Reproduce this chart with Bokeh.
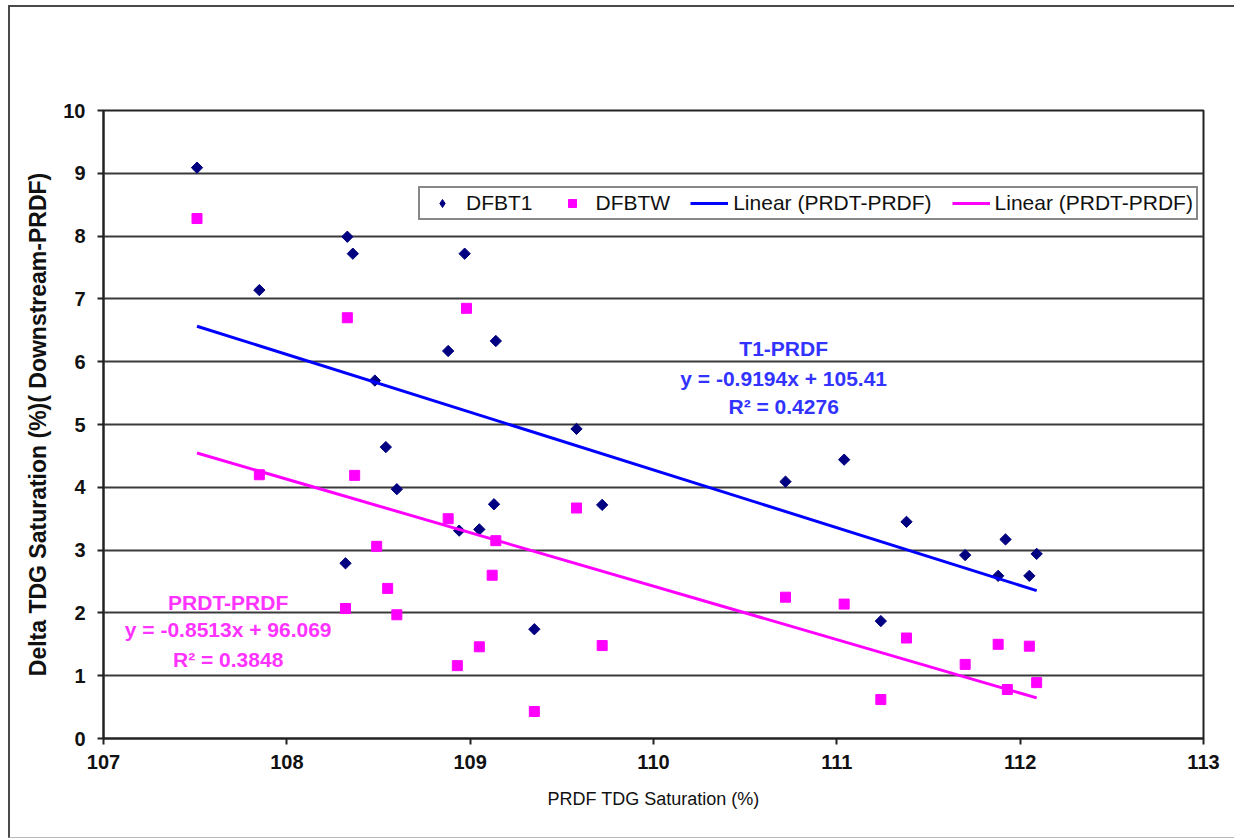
import math
from bokeh.plotting import figure
from bokeh.models import Label, Legend, LegendItem, FixedTicker, Range1d
from bokeh.embed import file_html
from bokeh.resources import INLINE

# ---- data ----
dfbt1_x = [107.51, 107.85, 108.33, 108.36, 108.48, 108.54, 108.60, 108.32, 108.88, 108.97,
           109.14, 109.13, 108.94, 109.05, 109.35, 109.58, 109.72, 110.72, 111.04, 111.38,
           111.70, 111.92, 111.88, 112.05, 112.09, 111.24]
dfbt1_y = [9.09, 7.14, 7.99, 7.72, 5.70, 4.64, 3.97, 2.79, 6.17, 7.72,
           6.33, 3.73, 3.31, 3.33, 1.74, 4.93, 3.72, 4.09, 4.44, 3.45,
           2.92, 3.17, 2.59, 2.59, 2.94, 1.87]

dfbtw_x = [107.51, 107.85, 108.33, 108.37, 108.49, 108.55, 108.60, 108.32, 108.88, 108.93,
           108.98, 109.05, 109.14, 109.12, 109.35, 109.58, 109.72, 110.72, 111.04, 111.24,
           111.38, 111.70, 111.88, 111.93, 112.05, 112.09]
dfbtw_y = [8.28, 4.20, 6.70, 4.19, 3.06, 2.39, 1.97, 2.07, 3.50, 1.16,
           6.85, 1.46, 3.15, 2.60, 0.43, 3.67, 1.48, 2.25, 2.14, 0.62,
           1.60, 1.18, 1.50, 0.78, 1.47, 0.89]

# trendline coefficients (from the chart's equations)
t1_slope, t1_intercept, t1_r2 = -0.9194, 105.41, 0.4276
tw_slope, tw_intercept, tw_r2 = -0.8513, 96.069, 0.3848

x_ticks = [107, 108, 109, 110, 111, 112, 113]
y_ticks = [0, 1, 2, 3, 4, 5, 6, 7, 8, 9, 10]

series_names = ["DFBT1", "DFBTW", "Linear (PRDT-PRDF)", "Linear (PRDT-PRDF)"]
t1_label = ["T1-PRDF", "y = -0.9194x + 105.41", "R\u00b2 = 0.4276"]
tw_label = ["PRDT-PRDF", "y = -0.8513x + 96.069", "R\u00b2 = 0.3848"]

FONT = "Liberation Sans"
NAVY = "#000080"
MAGENTA = "#ff00ff"
BLUE = "#0000ff"

p = figure(width=1226, height=833,
           x_range=Range1d(107, 113), y_range=Range1d(0, 10),
           output_backend="svg", toolbar_location=None,
           min_border_left=93, min_border_right=33,
           min_border_top=103, min_border_bottom=102)
p.styles = {"border-left": "2px solid #4a4a4a", "border-top": "2px solid #4a4a4a",
            "border-bottom": "1px solid #b8b8b8", "margin-left": "8px", "margin-top": "5px"}

p.background_fill_color = "white"
p.border_fill_color = "white"
p.outline_line_color = "#222222"
p.outline_line_width = 2

# grid
p.xgrid.grid_line_color = None
p.ygrid.grid_line_color = "#3a3a3a"
p.ygrid.grid_line_width = 2
p.ygrid.ticker = FixedTicker(ticks=y_ticks)

# axes
for ax in (p.xaxis[0], p.yaxis[0]):
    ax.axis_line_color = "#222222"
    ax.axis_line_width = 2
    ax.major_tick_line_color = "#222222"
    ax.major_tick_line_width = 2
    ax.major_tick_in = 0
    ax.major_tick_out = 6
    ax.minor_tick_line_color = None
    ax.major_label_text_font = FONT
    ax.major_label_text_font_style = "bold"
    ax.major_label_text_font_size = "20px"
    ax.major_label_text_color = "#111111"
    ax.axis_label_text_font = FONT
    ax.axis_label_text_color = "#111111"

p.xaxis.ticker = FixedTicker(ticks=x_ticks)
p.yaxis.ticker = FixedTicker(ticks=y_ticks)
p.xaxis.major_label_standoff = 10
p.yaxis.major_label_standoff = 12
p.xaxis.axis_label = "PRDF TDG Saturation (%)"
p.xaxis.axis_label_text_font_style = "normal"
p.xaxis.axis_label_text_font_size = "18px"
p.xaxis.axis_label_standoff = 17
p.yaxis.axis_label = "Delta TDG Saturation (%)( Downstream-PRDF)"
p.yaxis.axis_label_text_font_style = "bold"
p.yaxis.axis_label_text_font_size = "23px"
p.yaxis.axis_label_standoff = 9

# trend lines computed from coefficients over the data's x extent
x1 = [min(dfbt1_x), max(dfbt1_x)]
y1 = [t1_slope * v + t1_intercept for v in x1]
x2 = [min(dfbtw_x), max(dfbtw_x)]
y2 = [tw_slope * v + tw_intercept for v in x2]

r_t1 = p.scatter(dfbt1_x, dfbt1_y, marker="square", size=8, angle=math.pi / 4, color=NAVY)
r_tw = p.scatter(dfbtw_x, dfbtw_y, marker="square", size=10, color=MAGENTA)
r_l1 = p.line(x1, y1, line_color=BLUE, line_width=3)
r_l2 = p.line(x2, y2, line_color=MAGENTA, line_width=3)
# legend swatch for the diamond series: plain diamond over the series' first point
r_t1_key = p.scatter(x=dfbt1_x[:1], y=dfbt1_y[:1], marker="diamond", size=11, color=NAVY)

legend = Legend(items=[LegendItem(label=series_names[0], renderers=[r_t1_key]),
                       LegendItem(label=series_names[1], renderers=[r_tw]),
                       LegendItem(label=series_names[2], renderers=[r_l1]),
                       LegendItem(label=series_names[3], renderers=[r_l2])],
                orientation="horizontal", location=(315, 518))
legend.label_text_font = FONT
legend.label_text_font_size = "21px"
legend.label_text_color = "#111111"
legend.glyph_width = 38
legend.glyph_height = 20
legend.label_standoff = 5
legend.spacing = 20
legend.padding = 3
legend.margin = 0
legend.border_line_color = "#111111"
legend.border_line_width = 2
legend.background_fill_color = "white"
legend.background_fill_alpha = 1
p.add_layout(legend)

# equation annotations
t1_ys = [6.21, 5.73, 5.29]
tw_ys = [2.17, 1.74, 1.26]
for txt, yy in zip(t1_label, t1_ys):
    p.add_layout(Label(x=110.71, y=yy, text=txt, text_align="center", text_baseline="middle",
                       text_font=FONT, text_font_style="bold", text_font_size="21px",
                       text_color="#3333ff"))
for txt, yy in zip(tw_label, tw_ys):
    p.add_layout(Label(x=107.68, y=yy, text=txt, text_align="center", text_baseline="middle",
                       text_font=FONT, text_font_style="bold", text_font_size="21px",
                       text_color="#ff33ff"))

open("out.html", "w").write(file_html(p, INLINE))
